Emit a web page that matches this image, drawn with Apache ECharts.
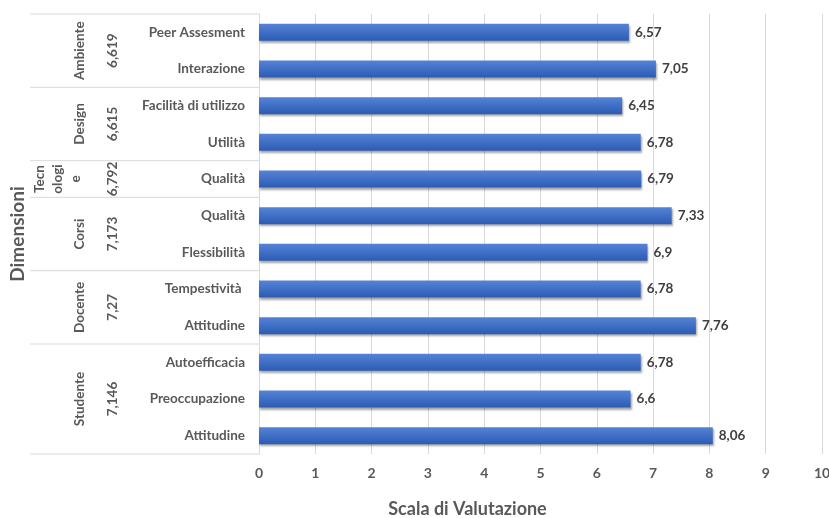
<!DOCTYPE html>
<html>
<head>
<meta charset="utf-8">
<script src="https://cdn.jsdelivr.net/npm/echarts@6/dist/echarts.min.js"></script>
<style>
  html, body { margin: 0; padding: 0; background: #fff; }
  #chart { width: 829px; height: 518px; }
</style>
</head>
<body>
<div id="chart"></div>
<script>
// Sub-dimension labels, top to bottom
const items = ['Peer Assesment', 'Interazione', 'Facilità di utilizzo', 'Utilità', 'Qualità',
  'Qualità', 'Flessibilità', 'Tempestività ', 'Attitudine', 'Autoefficacia', 'Preoccupazione', 'Attitudine'];
// Score of each sub-dimension
const scores = [6.57, 7.05, 6.45, 6.78, 6.79, 7.33, 6.9, 6.78, 7.76, 6.78, 6.6, 8.06];
// Dimension groups, their mean scores and the number of rows each spans
const groups = ['Ambiente', 'Design', 'Tecnologie', 'Corsi', 'Docente', 'Studente'];
const groupLabels = ['Ambiente', 'Design', 'Tecn\nologi\ne', 'Corsi', 'Docente', 'Studente'];
const groupMeans = ['6,619', '6,615', '6,792', '7,173', '7,27', '7,146'];
const groupSizes = [2, 2, 1, 2, 2, 3];
// Value axis ticks
const xTicks = [0, 1, 2, 3, 4, 5, 6, 7, 8, 9, 10];

const FONT = 'Lato';
const GREY = '#595959';
const fmt = v => String(v).replace('.', ',');

const chart = echarts.init(document.getElementById('chart'));
chart.setOption({
  animation: false,
  textStyle: { fontFamily: FONT },
  grid: { left: 259, right: 7, top: 14, bottom: 64, containLabel: false, outerBoundsMode: 'none' },
  xAxis: {
    type: 'value',
    min: xTicks[0],
    max: xTicks[xTicks.length - 1],
    interval: 1,
    axisLine: { show: false },
    axisTick: { show: false },
    splitLine: { show: true, lineStyle: { color: '#d9d9d9', width: 1 } },
    axisLabel: { color: GREY, fontWeight: 'bold', fontSize: 14, margin: 12, fontFamily: FONT },
    name: 'Scala di Valutazione',
    nameLocation: 'middle',
    nameGap: 46,
    nameTextStyle: { color: GREY, fontWeight: 'bold', fontSize: 18, fontFamily: FONT, padding: [0, 146, 0, 0] }
  },
  yAxis: {
    type: 'category',
    inverse: true,
    data: items,
    axisLine: { show: true, lineStyle: { color: '#d9d9d9' } },
    axisTick: { show: false },
    axisLabel: { color: GREY, fontWeight: 'bold', fontSize: 13.5, margin: 14, fontFamily: FONT },
    name: 'Dimensioni',
    nameLocation: 'middle',
    nameRotate: 90,
    nameGap: 232,
    nameTextStyle: { color: GREY, fontWeight: 'bold', fontSize: 19, fontFamily: FONT }
  },
  series: [{
    type: 'bar',
    data: scores,
    barWidth: 17,
    itemStyle: {
      color: new echarts.graphic.LinearGradient(0, 0, 0, 1, [
        { offset: 0, color: '#5483d6' },
        { offset: 1, color: '#2c5bb4' }
      ]),
      shadowColor: 'rgba(0,0,0,0.35)',
      shadowBlur: 2,
      shadowOffsetX: 1,
      shadowOffsetY: 2
    },
    label: {
      show: true,
      position: 'right',
      distance: 6,
      color: '#404040',
      fontWeight: 'bold',
      fontSize: 13.5,
      fontFamily: FONT,
      formatter: p => fmt(p.value)
    }
  }]
});

// Left-hand table: dimension names, mean scores and separators, positioned on the category scale
const c0 = chart.convertToPixel({ yAxisIndex: 0 }, 0);
const c1 = chart.convertToPixel({ yAxisIndex: 0 }, 1);
const band = c1 - c0;
const tableTop = c0 - band / 2;
const sepStyle = { stroke: '#d9d9d9', lineWidth: 1 };
const elements = [];
let start = 0;
elements.push({ type: 'line', shape: { x1: 30, y1: tableTop, x2: 259, y2: tableTop }, style: sepStyle });
groups.forEach((g, i) => {
  const end = start + groupSizes[i];
  const yTop = tableTop + start * band;
  const yBot = tableTop + end * band;
  const yMid = (yTop + yBot) / 2;
  elements.push({ type: 'line', shape: { x1: 30, y1: yBot, x2: 259, y2: yBot }, style: sepStyle });
  const multi = groupLabels[i].indexOf('\n') >= 0;
  elements.push({
    type: 'text', x: multi ? 58 : 80, y: yMid, rotation: Math.PI / 2,
    style: {
      text: groupLabels[i], fill: GREY, font: 'bold 13.5px ' + FONT,
      align: 'center', verticalAlign: 'middle', lineHeight: 18
    }
  });
  elements.push({
    type: 'text', x: 113, y: yMid, rotation: Math.PI / 2,
    style: {
      text: groupMeans[i], fill: GREY, font: 'bold 13.5px ' + FONT,
      align: 'center', verticalAlign: 'middle'
    }
  });
  start = end;
});
chart.setOption({ graphic: { elements } });
</script>
</body>
</html>
